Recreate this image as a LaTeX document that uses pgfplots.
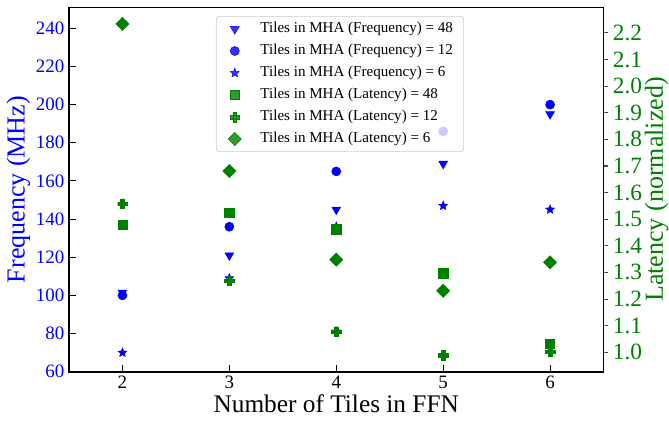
\documentclass[border=0pt]{standalone}
\usepackage{fontspec}
\setmainfont{Liberation Serif}
\usepackage{pgfplots}
\pgfplotsset{compat=1.18}
\definecolor{mblue}{RGB}{0,0,255}
\definecolor{mgreen}{RGB}{0,128,0}
\pgfdeclareplotmark{fstar}{%
  \pgfpathmoveto{\pgfpointpolar{90}{\pgfplotmarksize}}%
  \pgfpathlineto{\pgfpointpolar{126}{0.45\pgfplotmarksize}}%
  \pgfpathlineto{\pgfpointpolar{162}{\pgfplotmarksize}}%
  \pgfpathlineto{\pgfpointpolar{198}{0.45\pgfplotmarksize}}%
  \pgfpathlineto{\pgfpointpolar{234}{\pgfplotmarksize}}%
  \pgfpathlineto{\pgfpointpolar{270}{0.45\pgfplotmarksize}}%
  \pgfpathlineto{\pgfpointpolar{306}{\pgfplotmarksize}}%
  \pgfpathlineto{\pgfpointpolar{342}{0.45\pgfplotmarksize}}%
  \pgfpathlineto{\pgfpointpolar{18}{\pgfplotmarksize}}%
  \pgfpathlineto{\pgfpointpolar{54}{0.45\pgfplotmarksize}}%
  \pgfpathclose\pgfusepathqfillstroke}
\pgfdeclareplotmark{fplus}{%
  \pgfpathrectangle{\pgfqpoint{-\pgfplotmarksize}{-0.38\pgfplotmarksize}}{\pgfqpoint{2\pgfplotmarksize}{0.76\pgfplotmarksize}}%
  \pgfpathrectangle{\pgfqpoint{-0.38\pgfplotmarksize}{-\pgfplotmarksize}}{\pgfqpoint{0.76\pgfplotmarksize}{2\pgfplotmarksize}}%
  \pgfusepathqfillstroke}
\begin{document}
\begin{tikzpicture}
\path[use as bounding box] (-51.75pt,-37.7pt) rectangle (450pt,278.8pt);
\begin{axis}[
  at={(0pt,0pt)}, anchor=south west,
  scale only axis, width=400.9pt, height=273.3pt,
  xmin=1.5, xmax=6.5, ymin=60, ymax=251,
  xtick={2,3,4,5,6}, ytick={60,80,100,120,140,160,180,200,220,240},
  xtick pos=bottom, ytick pos=left, tick align=inside,
  major tick length=5pt,
  every tick/.style={black, line width=0.8pt},
  axis line style={line width=1.2pt},
  /pgf/number format/assume math mode=true,
  xticklabel style={font=\fontsize{14.2}{16}\selectfont},
  yticklabel style={font=\fontsize{14.2}{16}\selectfont, text=mblue},
  xlabel={Number of Tiles in FFN},
  xlabel style={font=\fontsize{19}{21}\selectfont, at={(axis description cs:0.5,-0.1125)}, anchor=base},
  ylabel={Frequency (MHz)},
  ylabel style={font=\fontsize{19.5}{21}\selectfont, text=mblue, at={(axis description cs:-0.0945,0.5)}, anchor=center},
  clip=false,
]
\addplot[only marks, mark=triangle*, mark size=3.8pt, color=mblue, mark options={rotate=180, fill=mblue, draw=mblue}]
  coordinates {(2,101.5) (3,121) (4,145) (5,169) (6,195)};
\addplot[only marks, mark=*, mark size=3.4pt, color=mblue, mark options={fill=mblue, draw=mblue}]
  coordinates {(2,100) (3,136) (4,165) (5,186) (6,200)};
\addplot[only marks, mark=fstar, mark size=3.6pt, color=mblue, mark options={fill=mblue, draw=mblue, line width=0.3pt}]
  coordinates {(2,70) (3,109) (4,136) (5,147) (6,145)};
\end{axis}
\begin{axis}[
  at={(0pt,0pt)}, anchor=south west,
  scale only axis, width=400.9pt, height=273.3pt,
  xmin=1.5, xmax=6.5, ymin=0.9268, ymax=2.2962,
  axis x line=none, axis y line*=right,
  ytick={1.0,1.1,1.2,1.3,1.4,1.5,1.6,1.7,1.8,1.9,2.0,2.1,2.2},
  tick align=outside, major tick length=3.5pt,
  every tick/.style={black!70, line width=0.8pt},
  axis line style={line width=1.2pt},
  /pgf/number format/assume math mode=true,
  yticklabel style={/pgf/number format/.cd, fixed, fixed zerofill, precision=1, /tikz/.cd, font=\fontsize{17.5}{19}\selectfont, text=mgreen, inner xsep=3.3pt},
  ylabel={Latency (normalized)},
  ylabel style={font=\fontsize{19.5}{21}\selectfont, text=mgreen, at={(axis description cs:1.1108,0.5)}, anchor=base},
  clip=false,
  legend style={at={(0.275,0.976)}, anchor=north west, draw=black!20, rounded corners=2pt,
    fill=white, fill opacity=0.8, text opacity=1, font=\fontsize{11.3}{13}\selectfont,
    inner xsep=6pt, inner ysep=2pt,
    nodes={inner sep=2pt, text height=8pt, text depth=3pt},
    row sep=1.5pt},
  legend cell align=left,
  legend image code/.code={\path (0cm,0cm) (0.87cm,0cm); \draw[#1] plot coordinates {(0.27cm,0cm)};},
]
\addlegendimage{only marks, mark=triangle*, mark size=3.8pt, color=mblue, mark options={rotate=180, fill=mblue, draw=mblue}}
\addlegendentry{Tiles in MHA (Frequency) = 48}
\addlegendimage{only marks, mark=*, mark size=3.4pt, color=mblue, mark options={fill=mblue, draw=mblue}}
\addlegendentry{Tiles in MHA (Frequency) = 12}
\addlegendimage{only marks, mark=fstar, mark size=3.6pt, color=mblue, mark options={fill=mblue, draw=mblue, line width=0.3pt}}
\addlegendentry{Tiles in MHA (Frequency) = 6}
\addplot[only marks, mark=square*, mark size=3.5pt, color=mgreen, mark options={fill=mgreen, draw=mgreen}]
  coordinates {(2,1.479) (3,1.524) (4,1.462) (5,1.297) (6,1.031)};
\addlegendentry{Tiles in MHA (Latency) = 48}
\addplot[only marks, mark=fplus, mark size=3.6pt, color=mgreen, mark options={fill=mgreen, draw=mgreen, line width=0.2pt}]
  coordinates {(2,1.558) (3,1.269) (4,1.078) (5,0.989) (6,1.002)};
\addlegendentry{Tiles in MHA (Latency) = 12}
\addplot[only marks, mark=square*, mark size=3.5pt, color=mgreen, mark options={rotate=45, fill=mgreen, draw=mgreen}]
  coordinates {(2,2.234) (3,1.681) (4,1.348) (5,1.231) (6,1.338)};
\addlegendentry{Tiles in MHA (Latency) = 6}
\end{axis}
\end{tikzpicture}
\end{document}
